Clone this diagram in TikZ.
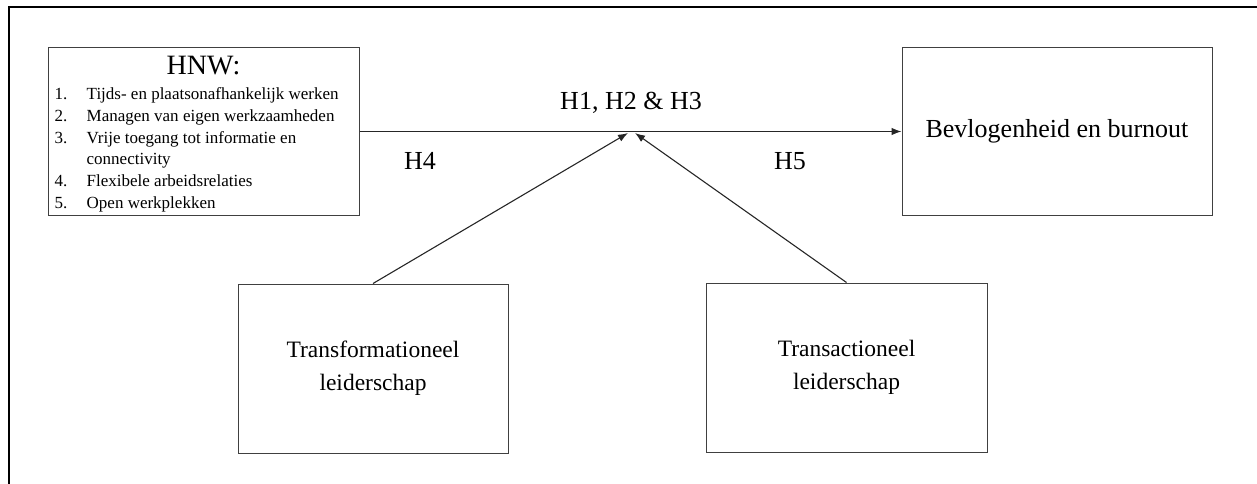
\documentclass[tikz,border=0pt]{standalone}
\usepackage{fontspec}
\setmainfont{Liberation Serif}
\usetikzlibrary{arrows.meta,positioning,calc}
\newcommand{\hnwtitlefont}{\fontsize{28}{32}\selectfont}
\newcommand{\hnwlistfont}{\fontsize{17}{21.8}\selectfont}

\begin{document}
\begin{tikzpicture}[x=1pt,y=-1pt,
        box/.style={draw=black!75,line width=1pt,inner sep=0pt,align=center},
        link/.style={draw=black!85,line width=1.1pt,-{Latex[length=10pt,width=7.5pt]}},
        lbl/.style={font=\fontsize{26}{30}\selectfont}]
        % page size
        \useasboundingbox (0,0) rectangle (1257,484);
        % draw outer frame
        \draw[line width=2.5pt] (9,500) -- (9,7) -- (1270,7);
        % draw boxes
        \node[box,minimum width=311pt,minimum height=167pt] (hnw) at (203.5,131.5) {};
        \node[box,minimum width=310pt,minimum height=167pt,lbl] (bev) at (1057,131.5) {Bevlogenheid en burnout};
        \node[box,minimum width=270pt,minimum height=169pt,font=\fontsize{23.5}{33}\selectfont] (trf) at (373,368.5) {Transformationeel\\leiderschap};
        \node[box,minimum width=281pt,minimum height=169pt,font=\fontsize{23.5}{33}\selectfont] (trc) at (846.5,367.5) {Transactioneel\\leiderschap};
        % text of the HNW box
        \node[anchor=base,font=\hnwtitlefont,inner sep=0pt] (hnwtitle) at ($(hnw.north)+(0,27)$) {HNW:};
        \node[anchor=base west,font=\hnwlistfont,inner sep=0pt] (hnwlist) at ($(hnw.north west)+(7,52)$)
        {\begin{tabular}[t]{@{}p{32pt}@{}l@{}}
        1. & Tijds- en plaatsonafhankelijk werken\\
        2. & Managen van eigen werkzaamheden\\
        3. & Vrije toegang tot informatie en\\
           & connectivity\\
        4. & Flexibele arbeidsrelaties\\
        5. & Open werkplekken
        \end{tabular}};
        % draw hypotheses
        \node[lbl] (hyp) at (631,103) {H1, H2 \& H3};
        \node[lbl] (hfour) at (420,161) {H4};
        \node[lbl] (hfive) at (790,161) {H5};
        \coordinate (jl) at (628,133);
        \coordinate (jr) at (635,133);
        \draw[link] (hnw.east) -- (bev.west);
        \draw[link] (trf.north) -- (jl);
        \draw[link] (trc.north) -- (jr);
\end{tikzpicture}
\end{document}
